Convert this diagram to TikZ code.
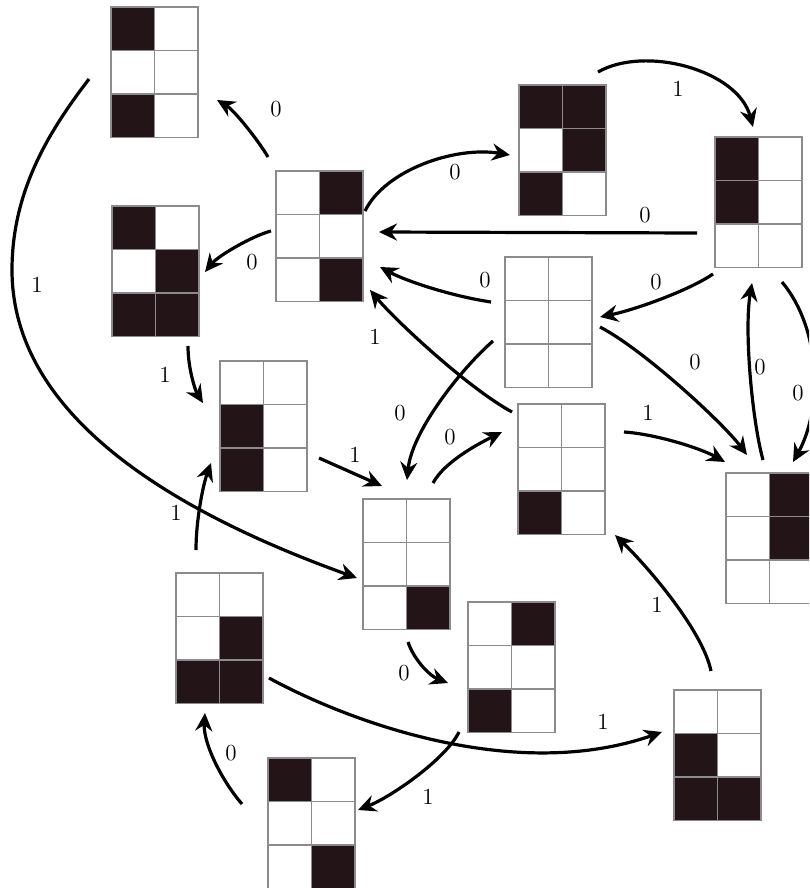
\documentclass[tikz,border=0pt]{standalone}
\usetikzlibrary{arrows.meta}
\definecolor{cellblack}{RGB}{35,20,23}
\definecolor{gridgray}{RGB}{138,138,143}
\tikzset{
  gridbox/.style={rectangle, inner sep=0pt, outer sep=0pt, minimum width=43.5pt, minimum height=65.25pt, anchor=north west},
  gridline/.style={draw=gridgray, line width=0.85pt},
  edge/.style={line width=1.6pt, -{Stealth[length=9pt,width=8.5pt,inset=3pt]}},
  lbl/.style={font=\fontsize{11.5}{13}\selectfont, inner sep=0pt}
}
% name, top-left corner, six cells row by row (1 = black)
\newcommand{\bitgrid}[3]{%
  \node[gridbox] (#1) at (#2) {};
  \begin{scope}[shift={(#1.north west)}]
    \foreach \v [count=\k from 0] in {#3} {
      \pgfmathtruncatemacro\cellc{mod(\k,2)}
      \pgfmathtruncatemacro\cellr{div(\k,2)}
      \ifnum\v=1 \fill[cellblack] (\cellc*43.5,\cellr*43.5) rectangle ++(43.5,43.5); \fi
    }
    \draw[gridline] (0,0) rectangle (87,130.5) (43.5,0) -- (43.5,130.5)
      (0,43.5) -- (87,43.5) (0,87) -- (87,87);
  \end{scope}}
\begin{document}
\begin{tikzpicture}[x=0.5pt,y=-0.5pt]
  \useasboundingbox (0,0) rectangle (809,888);
  \clip (0,0) rectangle (809,888);
  % grids
  \bitgrid{A}{111,7}{1,0,0,0,1,0}
  \bitgrid{B}{276,171}{0,1,0,0,0,1}
  \bitgrid{C}{112,206}{1,0,0,1,1,1}
  \bitgrid{D}{519,85}{1,1,0,1,1,0}
  \bitgrid{E}{715,137}{1,0,1,0,0,0}
  \bitgrid{F}{505,257}{0,0,0,0,0,0}
  \bitgrid{G}{220,361}{0,0,1,0,1,0}
  \bitgrid{H}{518,404}{0,0,0,0,1,0}
  \bitgrid{I}{726,473}{0,1,0,1,0,0}
  \bitgrid{J}{363,499}{0,0,0,0,0,1}
  \bitgrid{K}{176,573}{0,0,0,1,1,1}
  \bitgrid{L}{468,602}{0,1,0,0,1,0}
  \bitgrid{M}{674,690}{0,0,1,0,1,1}
  \bitgrid{N}{268,758}{1,0,0,0,0,1}
  % transitions
  \draw[edge] ([shift={(-22,72)}]A.north west) .. controls (50,130) and (12,190) .. (12,270)
    .. controls (12,400) and (140,500) .. ([shift={(-6,79)}]J.north west) node[lbl] (t1) at (37,285) {1};
  \draw[edge] ([shift={(-8,-14)}]B.north west) .. controls (258,140) and (234,110) .. ([shift={(106,93)}]A.north west) node[lbl] (t2) at (276,109) {0};
  \draw[edge] ([shift={(-5,60)}]B.north west) .. controls (252,236) and (218,256) .. ([shift={(93,66)}]C.north west) node[lbl] (t3) at (252,262) {0};
  \draw[edge] ([shift={(89,40)}]B.north west) .. controls (385,170) and (455,146) .. ([shift={(-9,70)}]D.north west) node[lbl] (t4) at (455,172) {0};
  \draw[edge] ([shift={(79,-13)}]D.north west) .. controls (645,45) and (738,70) .. ([shift={(38,-10)}]E.north west) node[lbl] (t5) at (678,89) {1};
  \draw[edge] ([shift={(-18,96)}]E.north west) -- ([shift={(103,61)}]B.north west) node[lbl] (t6) at (645,215) {0};
  \draw[edge] ([shift={(-2,137)}]E.north west) .. controls (688,291) and (634,310) .. ([shift={(95,60)}]F.north west) node[lbl] (t7) at (656,282) {0};
  \draw[edge] ([shift={(-14,45)}]F.north west) .. controls (451,296) and (406,281) .. ([shift={(104,96)}]B.north west) node[lbl] (t8) at (485,280) {0};
  \draw[edge] ([shift={(-6,8)}]H.north west) .. controls (468,388) and (396,321) .. ([shift={(94,119)}]B.north west) node[lbl] (t9) at (375,337) {1};
  \draw[edge] ([shift={(-12,84)}]F.north west) .. controls (463,367) and (412,430) .. ([shift={(44,-19)}]J.north west) node[lbl] (t10) at (400,413) {0};
  \draw[edge] ([shift={(95,70)}]F.north west) .. controls (644,350) and (723,423) .. ([shift={(21,-18)}]I.north west) node[lbl] (t11) at (695,362) {0};
  \draw[edge] ([shift={(37,-13)}]I.north west) .. controls (752,420) and (744,330) .. ([shift={(37,146)}]E.north west) node[lbl] (t12) at (760,367) {0};
  \draw[edge] ([shift={(67,145)}]E.north west) .. controls (822,330) and (822,410) .. ([shift={(67,-11)}]I.north west) node[lbl] (t13) at (798,393) {0};
  \draw[edge] ([shift={(106,28)}]H.north west) .. controls (655,434) and (700,448) .. ([shift={(-1,-11)}]I.north west) node[lbl] (t14) at (648,413) {1};
  \draw[edge] ([shift={(70,-16)}]J.north west) .. controls (445,461) and (480,443) .. ([shift={(-16,28)}]H.north west) node[lbl] (t15) at (450,437) {0};
  \draw[edge] ([shift={(76,140)}]C.north west) .. controls (188,370) and (196,392) .. ([shift={(-17,42)}]G.north west) node[lbl] (t16) at (165,375) {1};
  \draw[edge] ([shift={(99,97)}]G.north west) -- ([shift={(19,-13)}]J.north west) node[lbl] (t17) at (355,455) {1};
  \draw[edge] ([shift={(20,-23)}]K.north west) .. controls (196,520) and (203,485) .. ([shift={(-9,102)}]G.north west) node[lbl] (t18) at (176,513) {1};
  \draw[edge] ([shift={(45,143)}]J.north west) .. controls (414,660) and (430,676) .. ([shift={(-20,81)}]L.north west) node[lbl] (t19) at (404,673) {0};
  \draw[edge] ([shift={(93,105)}]K.north west) .. controls (340,717) and (510,785) .. ([shift={(-12,42)}]M.north west) node[lbl] (t20) at (603,722) {1};
  \draw[edge] ([shift={(-9,130)}]L.north west) .. controls (446,759) and (391,797) .. ([shift={(90,52)}]N.north west) node[lbl] (t21) at (428,797) {1};
  \draw[edge] ([shift={(-26,46)}]N.north west) .. controls (222,781) and (203,743) .. ([shift={(29,140)}]K.north west) node[lbl] (t22) at (231,753) {0};
  \draw[edge] ([shift={(37,-19)}]M.north west) .. controls (703,632) and (651,570) .. ([shift={(97,131)}]H.north west) node[lbl] (t23) at (657,605) {1};
\end{tikzpicture}
\end{document}
